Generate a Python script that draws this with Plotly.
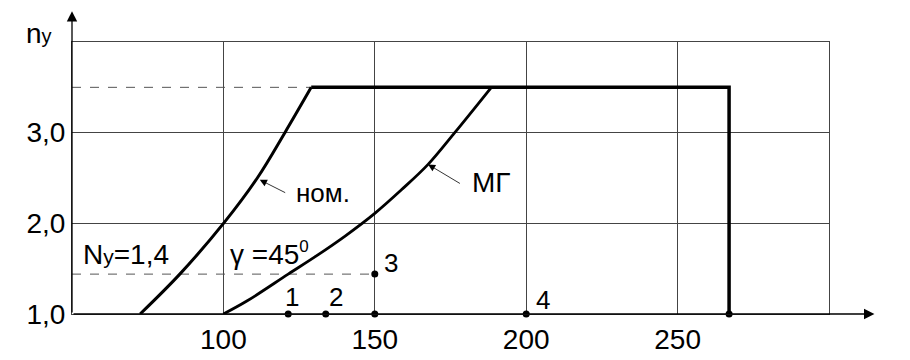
import plotly.graph_objects as go

# кривые (V, km/h ; n_y)
nom_v = [72.5, 85.6, 100.3, 111.2, 120.3, 129.0]
nom_n = [1.0, 1.44, 2.01, 2.5, 3.0, 3.5]
mg_v = [100.0, 107.6, 121.4, 130.2, 140.2, 150.0, 158.8, 167.6, 176.4, 188.5]
mg_n = [1.0, 1.14, 1.44, 1.63, 1.86, 2.11, 2.37, 2.65, 3.0, 3.5]
limit_v = [129.0, 267.0, 267.0]
limit_n = [3.5, 3.5, 1.0]

# точки режимов
pt_v = [121.4, 133.8, 150.0, 150.0, 200.0, 267.0]
pt_n = [1.0, 1.0, 1.0, 1.44, 1.0, 1.0]
pt_labels = ["1", "2", "3", "4"]
lbl_v = [122.8, 137.3, 155.5, 205.5]
lbl_n = [1.19, 1.19, 1.56, 1.15]

x_ticks = [100, 150, 200, 250]
y_ticks = [1, 2, 3]
y_ticktext = ["1,0", "2,0", "3,0"]

ny_level = 1.44
n_max = 3.5

font = "Liberation Sans, Arial, sans-serif"

fig = go.Figure()

# пунктирные уровни
fig.add_trace(go.Scatter(x=[50, 129], y=[n_max, n_max], mode="lines",
                         line=dict(color="#555555", width=1, dash="dash")))
fig.add_trace(go.Scatter(x=[50, 150], y=[ny_level, ny_level], mode="lines",
                         line=dict(color="#555555", width=1, dash="dash")))

fig.add_trace(go.Scatter(x=nom_v, y=nom_n, mode="lines",
                         line=dict(color="black", width=3, shape="spline", smoothing=1.0),
                         cliponaxis=False))
fig.add_trace(go.Scatter(x=limit_v, y=limit_n, mode="lines",
                         line=dict(color="black", width=3.5), cliponaxis=False))
fig.add_trace(go.Scatter(x=mg_v, y=mg_n, mode="lines",
                         line=dict(color="black", width=2.8, shape="spline", smoothing=1.0),
                         cliponaxis=False))
fig.add_trace(go.Scatter(x=pt_v, y=pt_n, mode="markers",
                         marker=dict(color="black", size=7), cliponaxis=False))

for lab, lv, ln in zip(pt_labels, lbl_v, lbl_n):
    fig.add_annotation(x=lv, y=ln, text=lab, showarrow=False,
                       font=dict(size=26, color="black", family=font))

# стрелки осей
fig.add_annotation(x=315, y=1, ax=50, ay=1, xref="x", yref="y", axref="x", ayref="y",
                   text="", showarrow=True, arrowhead=2, arrowsize=1.6, arrowwidth=1.3,
                   arrowcolor="black")
fig.add_annotation(x=50, y=4.34, ax=50, ay=1, xref="x", yref="y", axref="x", ayref="y",
                   text="", showarrow=True, arrowhead=2, arrowsize=1.6, arrowwidth=1.3,
                   arrowcolor="black")

# выноски
fig.add_annotation(x=112.0, y=2.48, ax=120.9, ay=2.33, xref="x", yref="y", axref="x", ayref="y",
                   text="", showarrow=True, arrowhead=2, arrowsize=1.8, arrowwidth=0.8,
                   arrowcolor="black")
fig.add_annotation(x=123.3, y=2.34, text="ном.", showarrow=False, xanchor="left",
                   font=dict(size=26, color="black", family=font))
fig.add_annotation(x=167.6, y=2.65, ax=178.6, ay=2.43, xref="x", yref="y", axref="x", ayref="y",
                   text="", showarrow=True, arrowhead=2, arrowsize=1.8, arrowwidth=0.8,
                   arrowcolor="black")
fig.add_annotation(x=181.5, y=2.45, text="МГ", showarrow=False, xanchor="left",
                   font=dict(size=28, color="black", family=font))

fig.add_annotation(x=53, y=1.66, text="N<span style='font-size:21px'>y</span>=1,4",
                   showarrow=False, xanchor="left",
                   font=dict(size=28, color="black", family=font))
fig.add_annotation(x=101.5, y=1.67,
                   text="γ =45<sup><span style='font-size:17px'>0</span></sup>",
                   showarrow=False, xanchor="left",
                   font=dict(size=28, color="black", family=font))

# подписи осей
fig.add_annotation(x=-0.044, xref="paper", y=1.03, yref="paper", xanchor="center",
                   yanchor="middle", text="n<span style='font-size:20px'>y</span>",
                   showarrow=False, font=dict(size=28, color="black", family=font))
fig.add_annotation(x=273, y=0.75, text="V<span style='font-size:21px'>пр, км/ч</span>",
                   showarrow=False, xanchor="left", yanchor="middle",
                   font=dict(size=27, color="black", family=font))

fig.update_xaxes(range=[50, 300], tickvals=x_ticks, showgrid=True, gridcolor="#444444",
                 gridwidth=1, showline=True, linecolor="#444444", linewidth=1, mirror=True,
                 zeroline=False, ticks="", automargin=False,
                 tickfont=dict(size=28, family=font, color="black"))
fig.update_yaxes(range=[1, 4], tickvals=y_ticks, ticktext=y_ticktext, showgrid=True,
                 gridcolor="#444444", gridwidth=1, showline=True, linecolor="#444444",
                 linewidth=1, mirror=True, zeroline=False, ticks="", automargin=False,
                 tickfont=dict(size=28, family=font, color="black"))

# страница сдвигает фигуру на 8px (отступ body), поэтому поля подобраны с учётом этого
fig.update_layout(width=910, height=360, showlegend=False,
                  plot_bgcolor="white", paper_bgcolor="white",
                  margin=dict(l=64, r=89, t=34, b=54))

fig.write_html("out.html")
